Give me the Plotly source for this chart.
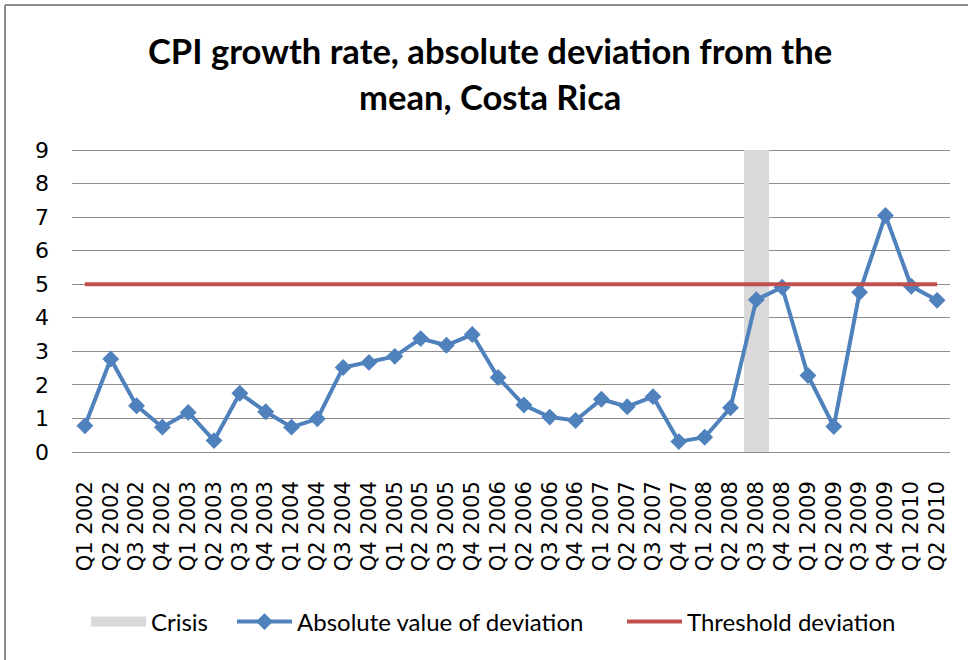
import plotly.graph_objects as go

quarters = [
    "Q1 2002", "Q2 2002", "Q3 2002", "Q4 2002",
    "Q1 2003", "Q2 2003", "Q3 2003", "Q4 2003",
    "Q1 2004", "Q2 2004", "Q3 2004", "Q4 2004",
    "Q1 2005", "Q2 2005", "Q3 2005", "Q4 2005",
    "Q1 2006", "Q2 2006", "Q3 2006", "Q4 2006",
    "Q1 2007", "Q2 2007", "Q3 2007", "Q4 2007",
    "Q1 2008", "Q2 2008", "Q3 2008", "Q4 2008",
    "Q1 2009", "Q2 2009", "Q3 2009", "Q4 2009",
    "Q1 2010", "Q2 2010",
]

abs_deviation = [
    0.78, 2.77, 1.38, 0.74,
    1.18, 0.34, 1.75, 1.20,
    0.74, 0.99, 2.52, 2.67,
    2.85, 3.38, 3.18, 3.50,
    2.22, 1.40, 1.04, 0.94,
    1.57, 1.35, 1.65, 0.31,
    0.44, 1.32, 4.54, 4.91,
    2.28, 0.76, 4.76, 7.05,
    4.94, 4.52,
]

threshold_value = 5
crisis_quarters = ["Q3 2008"]
crisis_height = 9
y_max = 9

threshold = [threshold_value for _ in quarters]
crisis = [crisis_height if q in crisis_quarters else None for q in quarters]

TICK_FONT = "DejaVu Sans"
TEXT_FONT = "Lato"
CRISIS_COLOR = "#D9D9D9"
BLUE = "#4F81BD"
RED = "#C0504D"

W, H = 968, 660
# target pixel rows for y=0 and y=9
Y0_PX, Y9_PX = 452, 150
unit = (Y0_PX - Y9_PX) / y_max
EDGE = 2  # px padding so the 0 and 9 gridlines are not clipped
pad_units = EDGE / unit
L, R = 72, 18
T = Y9_PX - EDGE
B = H - (Y0_PX + EDGE)
pw = W - L - R
ph = H - T - B


def px_x(x):
    return (x - L) / pw


def px_y(y):
    return (H - B - y) / ph


fig = go.Figure()

# Crisis band (bar spanning the full category)
fig.add_trace(go.Bar(
    x=quarters, y=crisis, name="Crisis",
    marker=dict(color=CRISIS_COLOR, line=dict(width=0)),
    width=0.97, legendgroup="crisis", showlegend=False,
))
# Legend entry for the crisis band (wide swatch)
fig.add_trace(go.Scatter(
    x=[None], y=[None], name="Crisis", mode="lines",
    line=dict(color=CRISIS_COLOR, width=16),
    legendgroup="crisis", showlegend=True, legend="legend",
))

fig.add_trace(go.Scatter(
    x=quarters, y=abs_deviation, name="Absolute value of deviation",
    mode="lines+markers",
    line=dict(color=BLUE, width=4),
    marker=dict(symbol="diamond", size=13, color=BLUE),
    legend="legend2",
))

fig.add_trace(go.Scatter(
    x=quarters, y=threshold, name="Threshold deviation",
    mode="lines",
    line=dict(color=RED, width=4),
    legend="legend3",
))

legend_common = dict(
    orientation="h",
    xanchor="left",
    y=px_y(622), yanchor="middle",
    font=dict(family=TEXT_FONT, size=24, color="#000000"),
    itemwidth=55,
    bgcolor="rgba(0,0,0,0)",
)

fig.update_layout(
    width=W, height=H,
    margin=dict(l=L, r=R, t=T, b=B, pad=0),
    paper_bgcolor="white",
    plot_bgcolor="white",
    showlegend=True,
    legend=dict(x=px_x(86), **legend_common),
    legend2=dict(x=px_x(232), **legend_common),
    legend3=dict(x=px_x(622), **legend_common),
    annotations=[
        dict(text="<b>CPI growth rate, absolute deviation from the</b>",
             xref="paper", yref="paper", x=px_x(490), y=px_y(50),
             xanchor="center", yanchor="middle", showarrow=False,
             font=dict(family=TEXT_FONT, size=34.6, color="#000000")),
        dict(text="<b>mean, Costa Rica</b>",
             xref="paper", yref="paper", x=px_x(490), y=px_y(97),
             xanchor="center", yanchor="middle", showarrow=False,
             font=dict(family=TEXT_FONT, size=34.6, color="#000000")),
    ],
    shapes=[
        dict(type="line", xref="paper", yref="paper",
             x0=px_x(5), x1=px_x(5), y0=px_y(5), y1=px_y(700),
             line=dict(color="#8C8C8C", width=2)),
        dict(type="line", xref="paper", yref="paper",
             x0=px_x(5), x1=px_x(1000), y0=px_y(5), y1=px_y(5),
             line=dict(color="#8C8C8C", width=2)),
    ],
    bargap=0,
)

fig.update_xaxes(
    type="category",
    tickangle=-90,
    showgrid=False, zeroline=False, showline=False,
    ticks="",
    ticklabelstandoff=22,
    tickfont=dict(family=TICK_FONT, size=21, color="#000000"),
    range=[-0.5, len(quarters) - 0.5],
)

fig.update_yaxes(
    range=[-pad_units, y_max + pad_units], dtick=1, tick0=0,
    showgrid=True, gridcolor="#8C8C8C", gridwidth=1,
    zeroline=False, showline=False,
    ticks="",
    ticklabelstandoff=22,
    tickfont=dict(family=TICK_FONT, size=22, color="#000000"),
)

fig.write_html("out.html")
